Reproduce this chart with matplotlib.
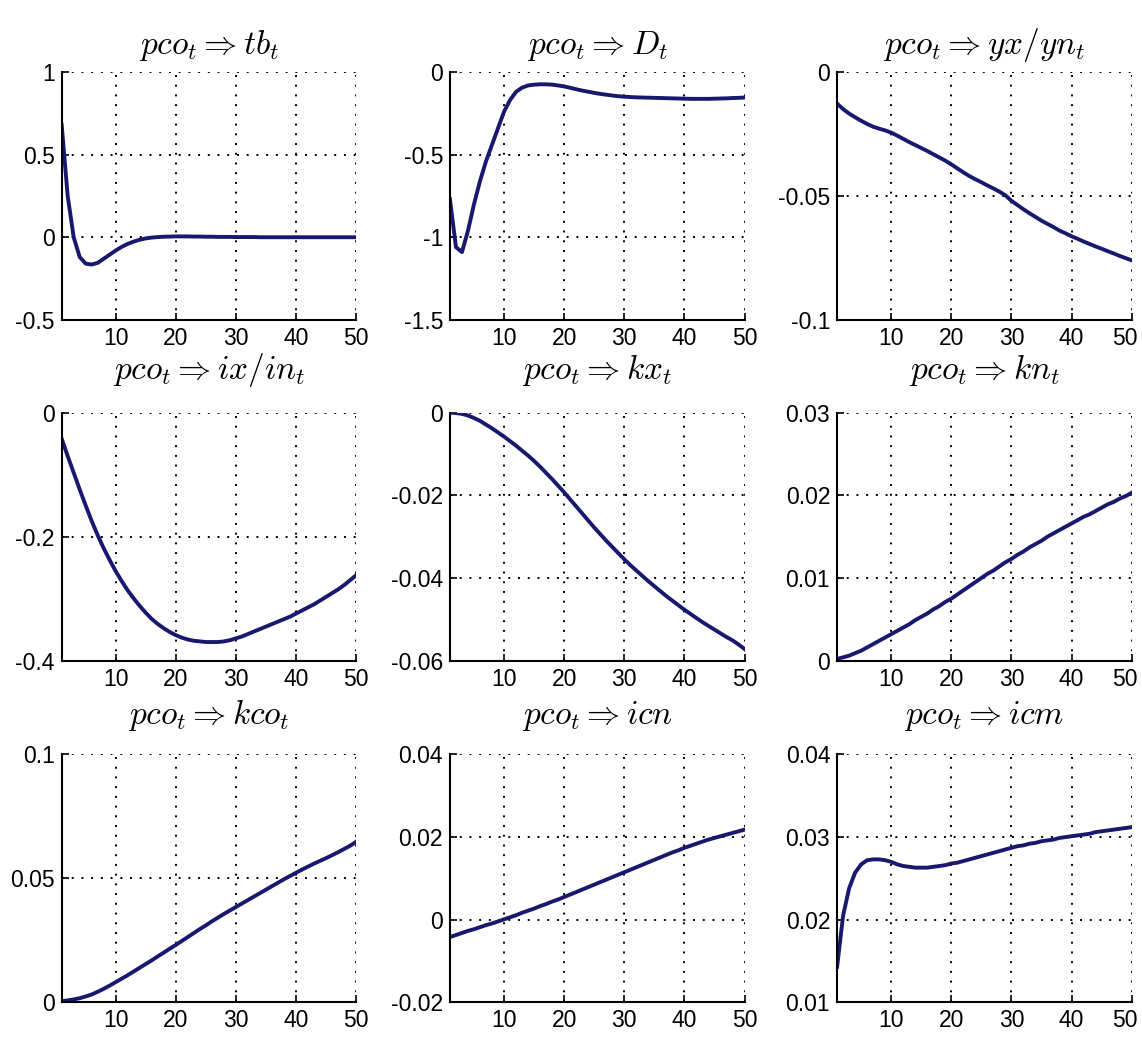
import numpy as np
import matplotlib
matplotlib.use('Agg')
import matplotlib.pyplot as plt
import matplotlib.transforms as mtransforms
from matplotlib.ticker import FormatStrFormatter

plt.rcParams['mathtext.fontset'] = 'cm'
plt.rcParams['axes.unicode_minus'] = False
plt.rcParams['font.family'] = ['Liberation Sans', 'DejaVu Sans']

# horizon (periods after the shock)
periods = np.arange(1, 51)

titles = [r'$pco_t \Rightarrow tb_t$', r'$pco_t \Rightarrow D_t$', r'$pco_t \Rightarrow yx/yn_t$',
          r'$pco_t \Rightarrow ix/in_t$', r'$pco_t \Rightarrow kx_t$', r'$pco_t \Rightarrow kn_t$',
          r'$pco_t \Rightarrow kco_t$', r'$pco_t \Rightarrow icn$', r'$pco_t \Rightarrow icm$']

tb = [0.68, 0.25, 0.0, -0.12, -0.16, -0.165, -0.155, -0.13, -0.105, -0.08,
      -0.058, -0.04, -0.026, -0.015, -0.007, -0.002, 0.001, 0.003, 0.004, 0.005,
      0.005, 0.005, 0.004, 0.004, 0.003, 0.003, 0.002, 0.002, 0.002, 0.001,
      0.001, 0.001, 0.001, 0.0, 0.0, 0.0, 0.0, 0.0, 0.0, 0.0,
      0.0, 0.0, 0.0, 0.0, 0.0, 0.0, 0.0, 0.0, 0.0, 0.0]

debt = [-0.77, -1.06, -1.09, -0.96, -0.80, -0.66, -0.54, -0.44, -0.34, -0.24,
        -0.17, -0.12, -0.095, -0.082, -0.077, -0.075, -0.075, -0.077, -0.082, -0.088,
        -0.096, -0.105, -0.113, -0.12, -0.127, -0.133, -0.138, -0.143, -0.147, -0.15,
        -0.152, -0.154, -0.155, -0.156, -0.157, -0.158, -0.159, -0.16, -0.161, -0.162,
        -0.163, -0.163, -0.163, -0.163, -0.162, -0.161, -0.16, -0.158, -0.157, -0.155]

yx_yn = [-0.0128, -0.015, -0.0168, -0.0183, -0.0197, -0.021, -0.0221, -0.0229, -0.0236, -0.0245,
         -0.0257, -0.027, -0.0283, -0.0295, -0.0307, -0.0319, -0.0332, -0.0345, -0.0358, -0.0373,
         -0.0389, -0.0405, -0.042, -0.0433, -0.0445, -0.0458, -0.047, -0.0483, -0.0498, -0.052,
         -0.0537, -0.0554, -0.057, -0.0585, -0.06, -0.0613, -0.0626, -0.064, -0.0651, -0.0663,
         -0.0673, -0.0684, -0.0694, -0.0704, -0.0713, -0.0723, -0.0732, -0.0742, -0.0751, -0.076]

ix_in = [-0.042, -0.07, -0.097, -0.124, -0.15, -0.175, -0.198, -0.219, -0.238, -0.256,
         -0.272, -0.287, -0.3, -0.312, -0.323, -0.333, -0.341, -0.348, -0.354, -0.359,
         -0.363, -0.366, -0.368, -0.369, -0.37, -0.37, -0.37, -0.369, -0.367, -0.364,
         -0.361, -0.357, -0.353, -0.349, -0.345, -0.341, -0.337, -0.333, -0.329, -0.324,
         -0.319, -0.314, -0.309, -0.303, -0.297, -0.291, -0.285, -0.278, -0.27, -0.262]

kx = [0.0, -0.0001, -0.0003, -0.0007, -0.0013, -0.002, -0.0029, -0.0038, -0.0048, -0.0058,
      -0.0069, -0.008, -0.0092, -0.0104, -0.0117, -0.0131, -0.0146, -0.0161, -0.0177, -0.0193,
      -0.021, -0.0227, -0.0244, -0.0261, -0.0278, -0.0294, -0.031, -0.0325, -0.034, -0.0355,
      -0.0369, -0.0382, -0.0395, -0.0408, -0.042, -0.0432, -0.0444, -0.0455, -0.0466, -0.0477,
      -0.0487, -0.0497, -0.0507, -0.0516, -0.0525, -0.0534, -0.0543, -0.0551, -0.0561, -0.0572]

kn = [0.0002, 0.0004, 0.0006, 0.0009, 0.0012, 0.0016, 0.002, 0.0024, 0.0028, 0.0032,
      0.0036, 0.004, 0.0044, 0.0049, 0.0053, 0.0057, 0.0062, 0.0066, 0.0071, 0.0075,
      0.008, 0.0085, 0.009, 0.0095, 0.01, 0.0105, 0.0109, 0.0114, 0.0119, 0.0123,
      0.0128, 0.0132, 0.0137, 0.0141, 0.0145, 0.015, 0.0154, 0.0158, 0.0162, 0.0166,
      0.017, 0.0174, 0.0177, 0.0181, 0.0185, 0.0189, 0.0192, 0.0196, 0.0199, 0.0203]

kco = [0.0005, 0.0008, 0.0012, 0.0017, 0.0024, 0.0032, 0.0043, 0.0055, 0.0068, 0.0082,
       0.0096, 0.011, 0.0125, 0.014, 0.0155, 0.017, 0.0186, 0.0201, 0.0217, 0.0232,
       0.0248, 0.0264, 0.028, 0.0296, 0.0311, 0.0327, 0.0342, 0.0357, 0.0371, 0.0385,
       0.0399, 0.0413, 0.0427, 0.0441, 0.0455, 0.0469, 0.0483, 0.0497, 0.051, 0.0523,
       0.0536, 0.0548, 0.056, 0.0571, 0.0582, 0.0594, 0.0606, 0.0619, 0.0632, 0.0648]

icn = [-0.0042, -0.0037, -0.0032, -0.0027, -0.0023, -0.0018, -0.0013, -0.0009, -0.0004, 0.0001,
       0.0006, 0.0011, 0.0017, 0.0022, 0.0027, 0.0033, 0.0038, 0.0044, 0.0049, 0.0055,
       0.0061, 0.0067, 0.0073, 0.0079, 0.0085, 0.0091, 0.0097, 0.0103, 0.0109, 0.0115,
       0.0121, 0.0127, 0.0133, 0.0139, 0.0145, 0.0151, 0.0157, 0.0163, 0.0168, 0.0174,
       0.0179, 0.0184, 0.0189, 0.0194, 0.0198, 0.0202, 0.0206, 0.021, 0.0214, 0.0218]

icm = [0.0143, 0.0205, 0.0238, 0.0257, 0.0267, 0.0272, 0.0273, 0.0273, 0.0272, 0.027,
       0.0267, 0.0265, 0.0264, 0.0263, 0.0263, 0.0263, 0.0264, 0.0265, 0.0266, 0.0268,
       0.0269, 0.0271, 0.0273, 0.0275, 0.0277, 0.0279, 0.0281, 0.0283, 0.0285, 0.0287,
       0.0289, 0.029, 0.0292, 0.0293, 0.0295, 0.0296, 0.0297, 0.0299, 0.03, 0.0301,
       0.0302, 0.0303, 0.0304, 0.0306, 0.0307, 0.0308, 0.0309, 0.031, 0.0311, 0.0312]

series = [tb, debt, yx_yn, ix_in, kx, kn, kco, icn, icm]

yticks = [[-0.5, 0, 0.5, 1], [-1.5, -1, -0.5, 0], [-0.1, -0.05, 0],
          [-0.4, -0.2, 0], [-0.06, -0.04, -0.02, 0], [0, 0.01, 0.02, 0.03],
          [0, 0.05, 0.1], [-0.02, 0, 0.02, 0.04], [0.01, 0.02, 0.03, 0.04]]
xticks = [10, 20, 30, 40, 50]

fig = plt.figure(figsize=(11.42, 10.42), dpi=100)
lefts = [0.054, 0.394, 0.733]
bottoms = [0.693, 0.366, 0.038]
title_pads = [13, 24, 22]

# nudge the last x label of the right column so it stays on the canvas
nudge = mtransforms.ScaledTranslation(-5 / 72, 0, fig.dpi_scale_trans)

for i in range(9):
    r, c = divmod(i, 3)
    ax = fig.add_axes([lefts[c], bottoms[r], 0.258, 0.238])
    ax.plot(periods, series[i], color='#18186e', lw=2.8)
    ax.set_xlim(1, 50)
    ax.set_ylim(yticks[i][0], yticks[i][-1])
    ax.set_xticks(xticks)
    ax.set_yticks(yticks[i])
    ax.yaxis.set_major_formatter(FormatStrFormatter('%g'))
    ax.grid(True, color='black', linestyle=(0, (1, 4)), linewidth=1.4)
    ax.spines['top'].set_visible(False)
    ax.spines['right'].set_visible(False)
    ax.spines['left'].set_linewidth(1.5)
    ax.spines['bottom'].set_linewidth(1.5)
    ax.tick_params(direction='in', length=5, width=1.2, labelsize=16.5, pad=5)
    ax.set_title(titles[i], fontsize=24, pad=title_pads[r])
    if c == 2:
        lab = ax.get_xticklabels()[-1]
        lab.set_transform(lab.get_transform() + nudge)

plt.savefig('out.png', dpi=100)
